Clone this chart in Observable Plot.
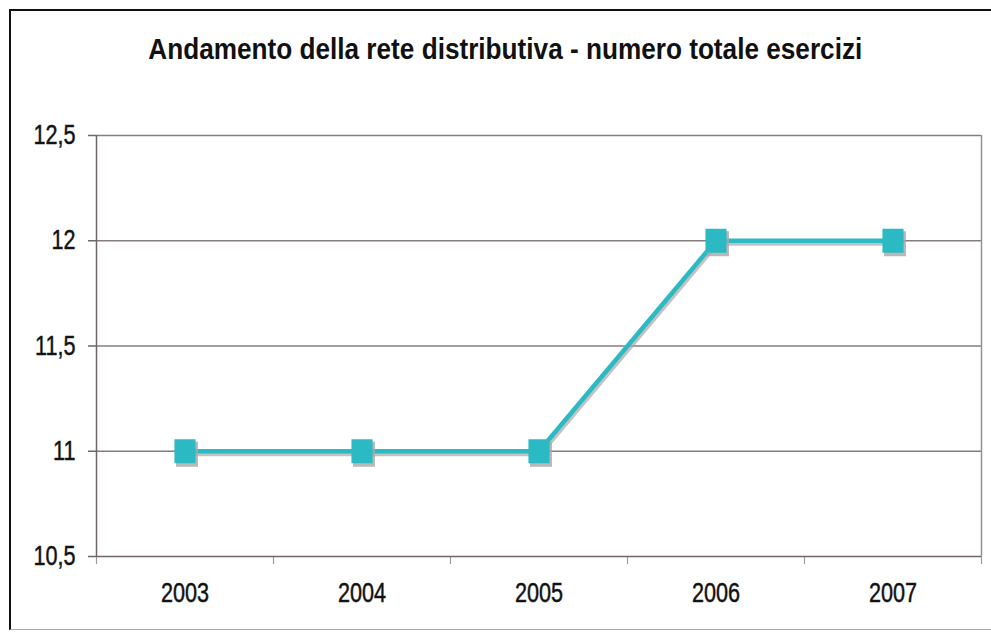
<!DOCTYPE html>
<html>
<head>
<meta charset="utf-8">
<script src="https://cdn.jsdelivr.net/npm/d3@7"></script>
<script src="https://cdn.jsdelivr.net/npm/@observablehq/plot@0.6"></script>
<style>
  html, body { margin: 0; padding: 0; background: #fff; width: 991px; height: 632px; overflow: hidden; }
  #frame { position: absolute; left: 9px; top: 9px; width: 1000px; height: 621px; box-sizing: border-box;
           border-top: 2.5px solid #111; border-left: 2.5px solid #111; border-bottom: 1.5px solid #aaa; pointer-events: none; }
  #title { position: absolute; left: 0; top: 34px; width: 1010px; text-align: center; white-space: nowrap;
           font: bold 30px "Liberation Sans", Arial, sans-serif; line-height: 30px; color: #111; }
  #title span { display: inline-block; transform-origin: 50% 50%; }
  #chart { position: absolute; left: 0; top: 100px; }
  #chart svg text { stroke: #1a1a1a; stroke-width: 0.5px; }
</style>
</head>
<body>
<div id="title"><span></span></div>
<div id="chart"></div>
<div id="frame"></div>
<script>
const title = "Andamento della rete distributiva - numero totale esercizi";
const years = [2003, 2004, 2005, 2006, 2007];
const esercizi = [11, 11, 11, 12, 12];
const yTicks = [10.5, 11, 11.5, 12, 12.5];

const data = years.map((year, i) => ({year, value: esercizi[i]}));
const bounds = [years[0] - 0.5, ...years.map(y => y + 0.5)];

const teal = "#2bbac4";
const shadow = "#a8a8a8";
const gridColor = "#857d7d";
const axisColor = "#6e6666";

const rectSymbol = {
  draw(context, size) {
    const r = Math.sqrt(size / Math.PI);
    const w = r * 0.88, h = r;
    context.moveTo(-w, -h);
    context.lineTo(w, -h);
    context.lineTo(w, h);
    context.lineTo(-w, h);
    context.closePath();
  }
};

const chart = Plot.plot({
  width: 991,
  height: 532,
  marginLeft: 96,
  marginRight: 10,
  marginTop: 35,
  marginBottom: 76,
  style: {fontFamily: "'Liberation Sans', Arial, sans-serif", fontSize: "27px", color: "#111", background: "transparent", overflow: "visible"},
  x: {domain: [bounds[0], bounds[bounds.length - 1]], label: null},
  y: {domain: [yTicks[0], yTicks[yTicks.length - 1]], label: null},
  marks: [
    Plot.ruleY(yTicks.slice(1), {stroke: gridColor, strokeWidth: 1.5}),
    Plot.axisY({ticks: yTicks, tickSize: 8, tickPadding: 13, stroke: axisColor, strokeWidth: 1.5,
                tickFormat: d => String(d).replace(".", ","), label: null}),
    Plot.axisX({ticks: bounds, tickSize: 8, tickFormat: () => "", stroke: "#a09a9a", strokeWidth: 1.2, label: null}),
    Plot.axisX({ticks: years, tickSize: 0, tickPadding: 26, tickFormat: d3.format("d"), label: null}),
    Plot.ruleX([bounds[0]], {stroke: axisColor, strokeWidth: 1.5}),
    Plot.ruleX([bounds[bounds.length - 1]], {stroke: "#9a9090", strokeWidth: 1.5}),
    Plot.ruleY([yTicks[0]], {stroke: axisColor, strokeWidth: 1.5}),
    Plot.line(data, {x: "year", y: "value", stroke: shadow, strokeWidth: 4, dx: 1.5, dy: 3, strokeOpacity: 0.7}),
    Plot.line(data, {x: "year", y: "value", stroke: teal, strokeWidth: 4.5}),
    Plot.dot(data, {x: "year", y: "value", symbol: rectSymbol, r: 12.5, fill: shadow, dx: 2, dy: 3, fillOpacity: 0.8}),
    Plot.dot(data, {x: "year", y: "value", symbol: rectSymbol, r: 12, fill: teal})
  ]
});

document.getElementById("chart").append(chart);

chart.querySelectorAll("text").forEach(t => {
  const L = t.getComputedTextLength();
  if (L > 0) {
    t.setAttribute("textLength", (L * 0.8).toFixed(1));
    t.setAttribute("lengthAdjust", "spacingAndGlyphs");
  }
});

const span = document.querySelector("#title span");
span.textContent = title;
const w = span.getBoundingClientRect().width;
span.style.transform = `scaleX(${(714 / w).toFixed(4)})`;
</script>
</body>
</html>
